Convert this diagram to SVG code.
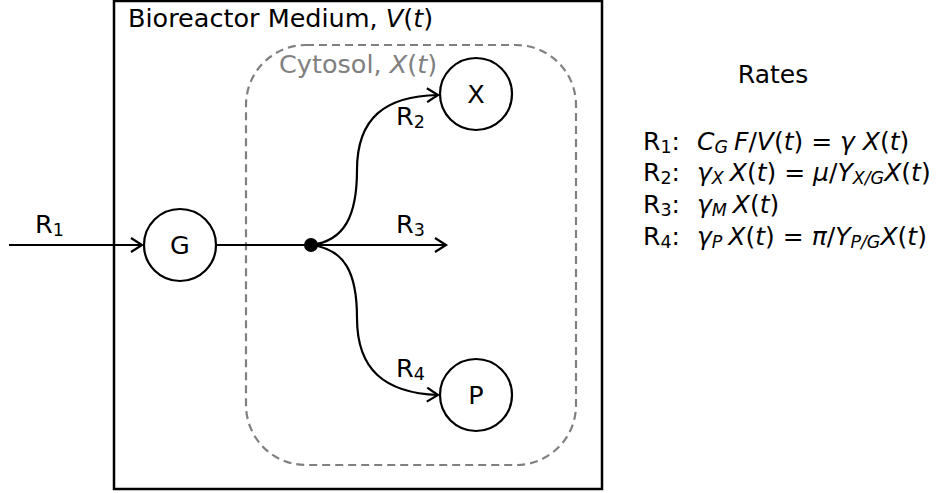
<svg xmlns="http://www.w3.org/2000/svg" width="938" height="493" viewBox="0 0 938 493">
<style>
text{font-family:"DejaVu Sans",sans-serif;font-size:25.5px;fill:#000}
.i{font-style:italic}
.s{font-size:17.5px}
.r{font-size:25px}
.node{fill:#fff;stroke:#000;stroke-width:2.2}
.edge{fill:none;stroke:#000;stroke-width:2.2}
</style>
<defs>
<marker id="ah" markerUnits="userSpaceOnUse" markerWidth="20" markerHeight="20" refX="0" refY="0" viewBox="-12 -10 14 20" orient="auto">
<path d="M-11,-7 L0,0 L-11,7" fill="none" stroke="#000" stroke-width="2.2"/>
</marker>
</defs>
<g id="medium">
<rect x="114" y="1" width="488" height="488" fill="none" stroke="#000" stroke-width="2.5"/>
<text x="128" y="27">Bioreactor Medium, <tspan class="i">V</tspan>(<tspan class="i">t</tspan>)</text>
</g>
<g id="cytosol">
<rect x="246" y="45" width="330" height="420" rx="60" ry="60" fill="none" stroke="#808080" stroke-width="2.2" stroke-dasharray="8,5"/>
<text x="279" y="73" style="fill:#808080">Cytosol, <tspan class="i">X</tspan>(<tspan class="i">t</tspan>)</text>
</g>
<g id="connectors">
<line class="edge" x1="9" y1="245" x2="142" y2="245" marker-end="url(#ah)"/>
<line class="edge" x1="215" y1="245" x2="311" y2="245"/>
<line class="edge" x1="311" y1="245" x2="446" y2="245" marker-end="url(#ah)"/>
<path class="edge" d="M311,245 C345,241 357,215 357,170 C357,118 385,96 438,95" marker-end="url(#ah)"/>
<path class="edge" d="M311,245 C345,249 357,273 357,318 C357,370 385,393 438,395" marker-end="url(#ah)"/>
<text x="35" y="233">R<tspan class="s" dy="3">1</tspan></text>
<text x="396" y="125">R<tspan class="s" dy="3">2</tspan></text>
<text x="396" y="233">R<tspan class="s" dy="3">3</tspan></text>
<text x="396" y="377">R<tspan class="s" dy="3">4</tspan></text>
</g>
<g id="G">
<circle class="node" cx="180" cy="245" r="36"/>
<text x="180" y="254" text-anchor="middle">G</text>
</g>
<g id="branch">
<circle cx="311" cy="245" r="7" fill="#000"/>
</g>
<g id="X">
<circle class="node" cx="476" cy="94" r="36"/>
<text x="476" y="103" text-anchor="middle">X</text>
</g>
<g id="P">
<circle class="node" cx="476" cy="395" r="36"/>
<text x="476" y="404" text-anchor="middle">P</text>
</g>
<g id="rates">
<text class="r" x="773" y="83" text-anchor="middle">Rates</text>
<text class="r" x="643" y="150">R<tspan class="s" dy="3">1</tspan><tspan dy="-3">:</tspan><tspan class="i" dx="17">C</tspan><tspan class="s i" dy="3">G</tspan><tspan class="i" dy="-3" dx="6">F</tspan>/<tspan class="i">V</tspan>(<tspan class="i">t</tspan>) = <tspan class="i">γ</tspan> <tspan class="i">X</tspan>(<tspan class="i">t</tspan>)</text>
<text class="r" x="643" y="181">R<tspan class="s" dy="3">2</tspan><tspan dy="-3">:</tspan><tspan class="i" dx="17">γ</tspan><tspan class="s i" dy="3">X</tspan><tspan class="i" dy="-3" dx="6">X</tspan>(<tspan class="i">t</tspan>) = <tspan class="i">μ</tspan>/<tspan class="i">Y</tspan><tspan class="s i" dy="3">X/G</tspan><tspan class="i" dy="-3">X</tspan>(<tspan class="i">t</tspan>)</text>
<text class="r" x="643" y="213">R<tspan class="s" dy="3">3</tspan><tspan dy="-3">:</tspan><tspan class="i" dx="17">γ</tspan><tspan class="s i" dy="3">M</tspan><tspan class="i" dy="-3" dx="6">X</tspan>(<tspan class="i">t</tspan>)</text>
<text class="r" x="643" y="245">R<tspan class="s" dy="3">4</tspan><tspan dy="-3">:</tspan><tspan class="i" dx="17">γ</tspan><tspan class="s i" dy="3">P</tspan><tspan class="i" dy="-3" dx="6">X</tspan>(<tspan class="i">t</tspan>) = <tspan class="i">π</tspan>/<tspan class="i">Y</tspan><tspan class="s i" dy="3">P/G</tspan><tspan class="i" dy="-3">X</tspan>(<tspan class="i">t</tspan>)</text>
</g>
</svg>
